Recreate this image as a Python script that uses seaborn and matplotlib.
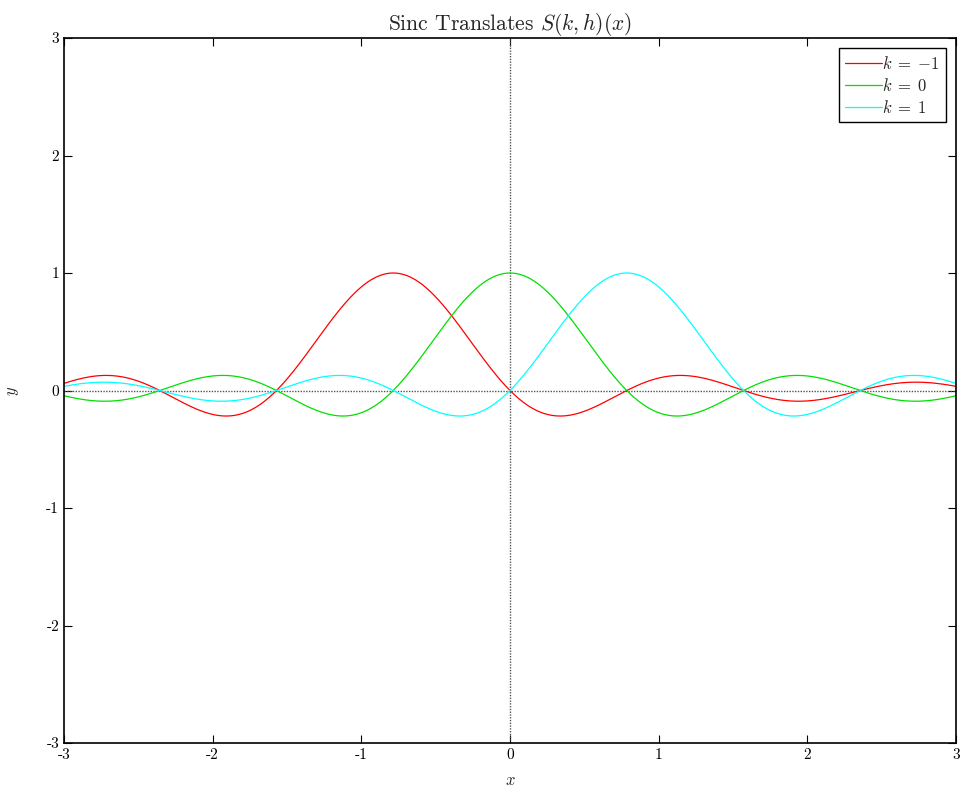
"""Sinc translates plot"""
import numpy as np
import seaborn as sns
import matplotlib.pyplot as plt
import pandas as pd

# translate indices, step size and colours
k_values = [-1, 0, 1]
h = np.pi / 4
colors = ['red', '#00e000', 'cyan']
x_ticks = [-3, -2, -1, 0, 1, 2, 3]
y_ticks = [-3, -2, -1, 0, 1, 2, 3]

x = np.linspace(-3, 3, 601)
frames = []
for k in k_values:
    frames.append(pd.DataFrame({'x': x, 'y': np.sinc((x - k * h) / h),
                                'k': r'$k\;=\;{' + str(k) + '}$'}))
df = pd.concat(frames, ignore_index=True)

sns.set_style('white')
plt.rcParams['font.family'] = ['cmr10', 'DejaVu Serif']
plt.rcParams['mathtext.fontset'] = 'cm'
plt.rcParams['axes.unicode_minus'] = False

fig = plt.figure(figsize=(9.63, 7.94), dpi=100)
ax = fig.add_axes([64 / 963, 1 - 743 / 794, (956 - 64) / 963, (743 - 38) / 794])

# axis lines through the origin
ax.axhline(0, color='#555555', lw=1, ls=(0, (1, 1)), zorder=1)
ax.axvline(0, color='#555555', lw=1, ls=(0, (1, 1)), zorder=1)

sns.lineplot(data=df, x='x', y='y', hue='k', palette=colors, ax=ax,
             lw=0.9, sort=False, zorder=2)

ax.set_xlim(-3, 3)
ax.set_ylim(-3, 3)
ax.set_xticks(x_ticks)
ax.set_yticks(y_ticks)
ax.set_xticklabels([str(t) for t in x_ticks], fontsize=11)
ax.set_yticklabels([str(t) for t in y_ticks], fontsize=11)
ax.tick_params(direction='in', length=6, width=0.8, top=True, right=True,
               bottom=True, left=True, colors='black')
for s in ax.spines.values():
    s.set_color('black')
    s.set_linewidth(1.2)

ax.set_title('Sinc Translates $S(k,h)(x)$', fontsize=15.5, pad=6)
ax.set_xlabel('$x$', fontsize=12, labelpad=8)
ax.set_ylabel('$y$', fontsize=12, labelpad=18)

leg = ax.legend(title=None, loc='upper right', fontsize=12, fancybox=False,
                framealpha=1, edgecolor='black', handlelength=2.2,
                handletextpad=0.0, borderpad=0.4, labelspacing=0.3,
                borderaxespad=0.6)
leg.get_frame().set_linewidth(1.0)

fig.savefig('out.png', dpi=100)
